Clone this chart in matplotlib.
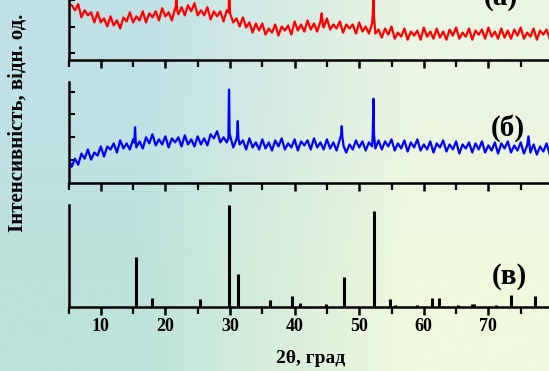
import matplotlib
matplotlib.use("Agg")
import matplotlib.pyplot as plt
import numpy as np

# (a) measured pattern, red: (2theta, intensity)
pattern_a = [
    (5.0, 55), (5.5, 54), (6.0, 49), (6.5, 55), (7.0, 42), (7.5, 49), (8.0, 44), (8.5, 47),
    (9.0, 37), (9.5, 47), (10.0, 37), (10.5, 41), (11.0, 33), (11.5, 43), (12.0, 34), (12.5, 39),
    (13.0, 31), (13.5, 42), (14.0, 38), (14.5, 47), (15.0, 37), (15.5, 43), (16.0, 39), (16.5, 48),
    (17.0, 37), (17.5, 46), (18.0, 42), (18.5, 48), (19.0, 39), (19.5, 51), (20.0, 43), (20.5, 47),
    (21.0, 39), (21.5, 51), (21.6, 50), (21.7, 64), (21.8, 50), (22.0, 45), (22.5, 52), (23.0, 44),
    (23.5, 54), (24.0, 48), (24.5, 56), (25.0, 44), (25.5, 49), (26.0, 44), (26.5, 52), (27.0, 40),
    (27.5, 48), (28.0, 43), (28.5, 48), (29.0, 38), (29.5, 49), (29.8, 47), (29.9, 80), (30.0, 46),
    (30.5, 37), (31.0, 41), (31.5, 33), (32.0, 42), (32.5, 32), (33.0, 37), (33.5, 27), (34.0, 36),
    (34.5, 29), (35.0, 36), (35.5, 25), (36.0, 31), (36.5, 27), (37.0, 35), (37.5, 24), (38.0, 33),
    (38.5, 29), (39.0, 34), (39.5, 25), (40.0, 38), (40.5, 29), (41.0, 35), (41.5, 28), (42.0, 39),
    (42.5, 30), (43.0, 36), (43.5, 28), (44.0, 38), (44.2, 46), (44.4, 33), (44.5, 32), (45.0, 41),
    (45.5, 30), (46.0, 35), (46.5, 31), (47.0, 38), (47.5, 27), (48.0, 35), (48.5, 31), (49.0, 35),
    (49.5, 26), (50.0, 37), (50.5, 28), (51.0, 33), (51.5, 26), (52.0, 36), (52.1, 44), (52.2, 64),
    (52.3, 42), (52.5, 26), (53.0, 30), (53.5, 22), (54.0, 31), (54.5, 25), (55.0, 33), (55.5, 21),
    (56.0, 27), (56.5, 23), (57.0, 31), (57.5, 20), (58.0, 28), (58.5, 24), (59.0, 29), (59.5, 20),
    (60.0, 32), (60.5, 23), (61.0, 28), (61.5, 21), (62.0, 31), (62.5, 22), (63.0, 28), (63.5, 20),
    (64.0, 30), (64.5, 24), (65.0, 32), (65.5, 21), (66.0, 27), (66.5, 23), (67.0, 31), (67.5, 20),
    (68.0, 29), (68.5, 25), (69.0, 30), (69.5, 21), (70.0, 32), (70.5, 23), (71.0, 28), (71.5, 21),
    (72.0, 31), (72.5, 22), (73.0, 29), (73.5, 21), (74.0, 30), (74.5, 24), (75.0, 32), (75.5, 21),
    (76.0, 27), (76.5, 23), (77.0, 31), (77.5, 20), (78.0, 29), (78.5, 25), (79.0, 30), (79.5, 21),
    (80.0, 32),
]

# (б) measured pattern, blue
pattern_b = [
    (5.0, 24), (5.5, 16), (6.0, 24), (6.5, 18), (7.0, 29), (7.5, 24), (8.0, 33), (8.5, 23),
    (9.0, 30), (9.5, 27), (10.0, 36), (10.5, 26), (11.0, 36), (11.5, 33), (12.0, 39), (12.5, 30),
    (13.0, 42), (13.5, 34), (14.0, 39), (14.5, 33), (15.0, 43), (15.2, 40), (15.3, 55), (15.4, 41),
    (15.5, 35), (16.0, 41), (16.5, 34), (17.0, 45), (17.5, 39), (18.0, 48), (18.5, 37), (19.0, 43),
    (19.5, 38), (20.0, 46), (20.5, 35), (21.0, 44), (21.5, 40), (22.0, 45), (22.5, 36), (23.0, 47),
    (23.5, 38), (24.0, 43), (24.5, 36), (25.0, 46), (25.5, 38), (26.0, 44), (26.5, 37), (27.0, 48),
    (27.5, 44), (28.0, 51), (28.5, 40), (29.0, 45), (29.5, 40), (29.75, 44), (29.85, 92), (29.95, 45),
    (30.0, 47), (30.5, 35), (31.0, 43), (31.1, 47), (31.2, 61), (31.3, 44), (31.5, 38), (32.0, 42),
    (32.5, 33), (33.0, 44), (33.5, 35), (34.0, 40), (34.5, 33), (35.0, 43), (35.5, 34), (36.0, 40),
    (36.5, 32), (37.0, 42), (37.5, 36), (38.0, 44), (38.5, 33), (39.0, 39), (39.5, 35), (40.0, 43),
    (40.5, 32), (41.0, 41), (41.5, 37), (42.0, 42), (42.5, 33), (43.0, 44), (43.5, 35), (44.0, 40),
    (44.5, 33), (45.0, 43), (45.5, 34), (46.0, 40), (46.5, 32), (47.0, 43), (47.2, 47), (47.3, 56),
    (47.4, 45), (47.6, 36), (48.0, 30), (48.5, 38), (49.0, 33), (49.5, 42), (50.0, 35), (50.5, 41),
    (51.0, 32), (51.5, 40), (52.0, 36), (52.1, 48), (52.2, 83), (52.3, 47), (52.5, 34), (53.0, 42),
    (53.5, 33), (54.0, 41), (54.5, 36), (55.0, 43), (55.5, 32), (56.0, 39), (56.5, 34), (57.0, 42),
    (57.5, 31), (58.0, 40), (58.5, 35), (59.0, 43), (59.5, 32), (60.0, 38), (60.5, 33), (61.0, 41),
    (61.5, 30), (62.0, 39), (62.5, 35), (63.0, 42), (63.5, 31), (64.0, 38), (64.5, 33), (65.0, 41),
    (65.5, 29), (66.0, 38), (66.5, 34), (67.0, 40), (67.5, 30), (68.0, 39), (68.5, 33), (69.0, 41),
    (69.5, 30), (70.0, 37), (70.5, 32), (71.0, 40), (71.5, 29), (72.0, 39), (72.5, 34), (73.0, 41),
    (73.5, 30), (74.0, 37), (74.5, 32), (75.0, 40), (75.5, 29), (76.0, 37), (76.2, 46), (76.4, 35),
    (76.5, 30), (77.0, 38), (77.5, 28), (78.0, 36), (78.5, 31), (79.0, 39), (79.5, 28), (80.0, 35),
]

# (в) reference lines
ref_pos = [15.5, 17.9, 25.4, 29.9, 31.3, 36.2, 39.6, 40.8, 44.9, 47.7, 52.3, 54.8, 55.6,
           59.0, 61.3, 62.3, 65.3, 67.4, 67.8, 71.2, 73.5, 77.2]
ref_int = [49, 9, 7.5, 100, 32, 6.5, 11, 4, 3, 29, 94, 7.5, 2,
           2, 9, 9, 2, 3, 3, 2, 12, 11]

W, H = 549, 371
fig = plt.figure(figsize=(W / 100, H / 100), dpi=100)
plt.rcParams['font.family'] = ['Liberation Serif', 'DejaVu Serif']

# background gradient
bg = fig.add_axes([0, 0, 1, 1], zorder=-10)
c_tl = np.array([0xbf, 0xe1, 0xe6]) / 255
c_bl = np.array([0xbd, 0xe3, 0xda]) / 255
c_tr = np.array([0xea, 0xf5, 0xe2]) / 255
c_br = np.array([0xf0, 0xf9, 0xdc]) / 255
grad = np.array([[c_tl, c_tr], [c_bl, c_br]])
bg.imshow(grad, aspect='auto', interpolation='bilinear', extent=[0, 1, 0, 1])
bg.axis('off')

left = 68.5 / W
width = 75 * 6.46 / W
hgt = 101.5 / H


def make_ax(bottom_px):
    ax = fig.add_axes([left, (H - bottom_px) / H, width, hgt])
    ax.patch.set_alpha(0)
    ax.set_xlim(5, 80)
    ax.set_ylim(0, 100)
    for s in ['top', 'right']:
        ax.spines[s].set_visible(False)
    for s in ['left', 'bottom']:
        ax.spines[s].set_linewidth(1.8)
    ax.set_xticks([10, 20, 30, 40, 50, 60, 70])
    ax.set_xticks([5, 15, 25, 35, 45, 55, 65, 75], minor=True)
    ax.tick_params(axis='x', which='major', direction='out', length=6, width=1.8,
                   labelsize=13, pad=2)
    ax.tick_params(axis='x', which='minor', direction='out', length=5, width=1.6)
    return ax


ax_a = make_ax(60)
xa, ya = zip(*pattern_a)
ax_a.plot(xa, ya, color='#ff0000', lw=1.6)
ax_a.set_yticks([6.6, 33, 59.4, 85.8])
ax_a.tick_params(axis='y', direction='in', length=4, width=1.5, labelleft=False)
ax_a.tick_params(axis='x', labelbottom=False)

ax_b = make_ax(183)
xb, yb = zip(*pattern_b)
ax_b.plot(xb, yb, color='#0000ff', lw=1.6)
ax_b.set_yticks([22.5, 45, 67.5, 90])
ax_b.tick_params(axis='y', direction='in', length=4, width=1.5, labelleft=False)
ax_b.tick_params(axis='x', labelbottom=False)

ax_c = make_ax(306.7)
ax_c.vlines(ref_pos, 0, ref_int, color='black', lw=2.2)
ax_c.set_yticks([])
for lab in ax_c.get_xticklabels():
    lab.set_fontweight('bold')
ax_c.set_xlabel('2θ, град', fontsize=14, fontweight='bold', labelpad=11)

# panel labels (figure pixel coordinates, y from top)
for lbl, px, py in [('(а)', 501, -2), ('(б)', 508, 128), ('(в)', 509, 277)]:
    fig.text(px / W, (H - py) / H, lbl, fontsize=21, fontweight='bold',
             ha='center', va='center')

fig.text(18 / W, (H - 123) / H, 'Інтенсивність, відн. од.', rotation=90,
         fontsize=15, fontweight='bold', ha='center', va='center')

fig.savefig('out.png', dpi=100)
